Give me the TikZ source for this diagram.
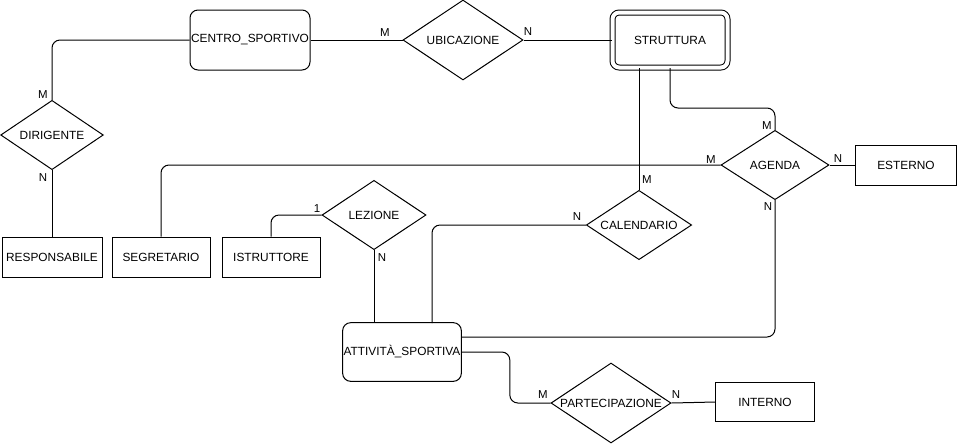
\documentclass[tikz,border=0pt]{standalone}
\usepackage{fontspec}
\setmainfont{Liberation Sans}
\usetikzlibrary{shapes.geometric}
\tikzset{entity/.style={draw, rectangle, minimum width=75pt, minimum height=30pt, inner sep=0pt},
  rentity/.style={draw, rectangle, rounded corners=6pt, minimum width=90pt, minimum height=45pt, inner sep=0pt},
  relation/.style={draw, diamond, inner sep=0pt},
  card/.style={inner sep=0pt, font=\fontsize{8.6}{10}\selectfont}}
\newcommand{\reltxt}[1]{\makebox[0pt]{#1}}

\begin{document}
\begin{tikzpicture}[x=0.75pt, y=-0.75pt, line width=0.75pt, font=\fontsize{8.9}{10}\selectfont]
      \useasboundingbox (0,0) rectangle (957,444);

      \node [rentity] (centro) at (250, 40) {CENTRO\_SPORTIVO};
      \node [relation, minimum width=90pt, minimum height=60pt] (ubic) at (463, 40) {\reltxt{UBICAZIONE}};
      \node [rentity, double, double distance=3pt, rounded corners=5pt, minimum width=86.25pt, minimum height=41.25pt] (strutt) at (670, 40) {STRUTTURA};
      \node [relation, minimum width=77pt, minimum height=52pt] (dir) at (52, 135) {\reltxt{DIRIGENTE}};
      \node [entity] (resp) at (52, 257) {RESPONSABILE};
      \node [entity, minimum width=73.5pt] (segr) at (161, 257) {SEGRETARIO};
      \node [entity, minimum width=73.5pt] (istr) at (271, 257) {ISTRUTTORE};
      \node [relation, minimum width=78pt, minimum height=52pt] (lez) at (374, 215) {\reltxt{LEZIONE}};
      \node [rentity, minimum width=89pt, minimum height=44pt] (att) at (402, 352) {ATTIVITÀ\_SPORTIVA};
      \node [relation, minimum width=79pt, minimum height=52pt] (cal) at (639, 225) {\reltxt{CALENDARIO}};
      \node [relation, minimum width=81pt, minimum height=52pt] (agenda) at (775, 165) {\reltxt{AGENDA}};
      \node [entity, minimum width=76pt] (est) at (906, 165) {ESTERNO};
      \node [relation, minimum width=90pt, minimum height=60pt] (part) at (611, 403) {\reltxt{PARTECIPAZIONE}};
      \node [entity, minimum width=74pt, minimum height=29pt] (intern) at (765, 402) {INTERNO};

      \coordinate (a1) at (432, 323);
      \coordinate (a2) at (462, 337);

      \draw (centro) -- (ubic) -- (strutt);
      \draw [rounded corners=6pt] (centro.west) -| (dir.north);
      \draw (dir.south) -- (resp.north);
      \draw [rounded corners=6pt] (segr.north) |- (agenda.west);
      \draw [rounded corners=6pt] (istr.north) |- (lez.west);
      \draw (lez.south) -- (lez.south |- att.north);
      \draw [rounded corners=6pt] (a1) |- (cal.west);
      \draw (cal.north) -- (cal.north |- strutt.south);
      \draw [rounded corners=6pt] (strutt.south) -- ++(0, 40) -| (agenda.north);
      \draw (agenda.east) -- (est.west);
      \draw [rounded corners=6pt] (agenda.south) |- (a2);
      \draw [rounded corners=6pt] (att.east) -- ++(48, 0) |- (part.west);
      \draw (part.east) -- (intern.west);

      \node [card] (c1) at (385, 33) {M};
      \node [card] (c2) at (528, 32) {N};
      \node [card] (c3) at (43, 95) {M};
      \node [card] (c4) at (43, 178) {N};
      \node [card] (c5) at (317, 209) {1};
      \node [card] (c6) at (382, 258) {N};
      \node [card] (c7) at (577, 217) {N};
      \node [card] (c8) at (647, 180) {M};
      \node [card] (c9) at (767, 126) {M};
      \node [card] (c10) at (711, 160) {M};
      \node [card] (c11) at (838, 159) {N};
      \node [card] (c12) at (768, 207) {N};
      \node [card] (c13) at (543, 395) {M};
      \node [card] (c14) at (676, 395) {N};
    \end{tikzpicture}
\end{document}
